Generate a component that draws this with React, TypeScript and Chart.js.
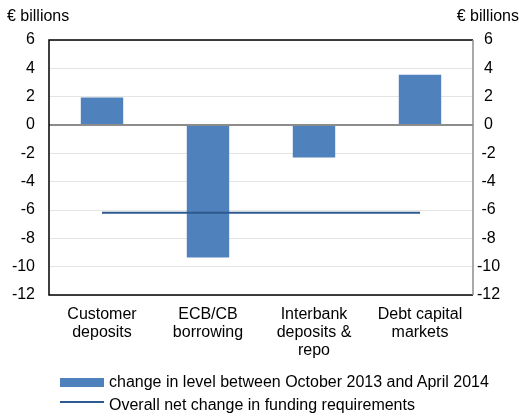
import React, { useEffect, useRef } from 'react';
import { Chart, registerables } from 'chart.js';

Chart.register(...registerables);

const categories: string[][] = [
  ['Customer', 'deposits'],
  ['ECB/CB', 'borrowing'],
  ['Interbank', 'deposits &', 'repo'],
  ['Debt capital', 'markets'],
];
const changeValues = [1.95, -9.35, -2.3, 3.55];
const netChangeValues = [-6.2, -6.2, -6.2, -6.2];
const yMin = -12;
const yMax = 6;
const yStep = 2;
const unitLabel = '€ billions';
const barLabel = 'change in level between October 2013 and April 2014';
const lineLabel = 'Overall net change in funding requirements';

const FONT = "'Liberation Sans', Arial, sans-serif";
const BAR_COLOR = '#4f81bd';
const LINE_COLOR = '#2c5a8e';

const framePlugin = {
  id: 'frame',
  afterDatasetsDraw(chart: any) {
    const { ctx, chartArea } = chart;
    const { left, right, top, bottom } = chartArea;
    const y0 = chart.scales.y.getPixelForValue(0);
    ctx.save();
    ctx.strokeStyle = '#8c8c8c';
    ctx.lineWidth = 2;
    ctx.beginPath();
    ctx.moveTo(left, y0);
    ctx.lineTo(right, y0);
    ctx.stroke();
    ctx.lineWidth = 1.5;
    ctx.strokeStyle = '#000';
    ctx.beginPath();
    ctx.moveTo(right, top);
    ctx.lineTo(left, top);
    ctx.lineTo(left, bottom);
    ctx.lineTo(right, bottom);
    ctx.stroke();
    ctx.strokeStyle = '#8c8c8c';
    ctx.beginPath();
    ctx.moveTo(right, top);
    ctx.lineTo(right, bottom);
    ctx.stroke();
    ctx.fillStyle = '#000';
    ctx.font = `16px ${FONT}`;
    ctx.textBaseline = 'middle';
    ctx.textAlign = 'left';
    ctx.fillText(unitLabel, 7, 17);
    ctx.textAlign = 'right';
    ctx.fillText(unitLabel, 519, 17);
    ctx.restore();
  },
};

export default function App() {
  const ref = useRef<HTMLCanvasElement | null>(null);

  useEffect(() => {
    if (!ref.current) return;
    const chart = new Chart(ref.current, {
      type: 'bar',
      data: {
        labels: categories as any,
        datasets: [
          {
            type: 'line' as any,
            label: lineLabel,
            data: netChangeValues,
            borderColor: LINE_COLOR,
            borderWidth: 2,
            pointRadius: 0,
            fill: false,
            yAxisID: 'y',
            order: 0,
          },
          {
            type: 'bar',
            label: barLabel,
            data: changeValues,
            backgroundColor: BAR_COLOR,
            borderWidth: 0,
            barPercentage: 0.4,
            categoryPercentage: 1,
            yAxisID: 'y',
            order: 1,
          },
        ],
      },
      options: {
        animation: false,
        responsive: false,
        maintainAspectRatio: false,
        layout: { padding: { top: 40, bottom: 50, left: 0, right: 0 } },
        plugins: { legend: { display: false }, tooltip: { enabled: false } },
        scales: {
          x: {
            grid: { display: false, drawTicks: false },
            border: { display: false },
            ticks: {
              color: '#000',
              font: { family: FONT, size: 16, lineHeight: 1.15 },
              padding: 10,
              maxRotation: 0,
              autoSkip: false,
            },
            afterFit(scale: any) {
              scale.height = 71;
            },
          },
          y: {
            position: 'left',
            min: yMin,
            max: yMax,
            ticks: {
              stepSize: yStep,
              color: '#000',
              font: { family: FONT, size: 16 },
              padding: 14,
            },
            grid: {
              drawTicks: false,
              color: '#e4e4e4',
              lineWidth: 1,
            },
            border: { display: false },
            afterFit(scale: any) {
              scale.width = 49;
            },
          },
          y2: {
            position: 'right',
            min: yMin,
            max: yMax,
            ticks: {
              stepSize: yStep,
              color: '#000',
              font: { family: FONT, size: 16 },
              padding: 4,
              crossAlign: 'center',
            },
            grid: { display: false, drawTicks: false },
            border: { display: false },
            afterFit(scale: any) {
              scale.width = 46;
            },
          },
        },
      },
      plugins: [framePlugin],
    });
    return () => chart.destroy();
  }, []);

  const textStyle: React.CSSProperties = {
    position: 'absolute',
    left: 109,
    fontFamily: FONT,
    fontSize: 16,
    color: '#000',
    whiteSpace: 'nowrap',
    lineHeight: '18px',
  };

  return (
    <div style={{ position: 'fixed', left: 0, top: 0, width: 519, height: 416, background: '#fff' }}>
      <canvas ref={ref} width={519} height={416} style={{ width: 519, height: 416, display: 'block' }} />
      <div style={{ position: 'absolute', left: 60, top: 378, width: 44, height: 9, background: BAR_COLOR }} />
      <div style={{ ...textStyle, top: 373 }}>{barLabel}</div>
      <div style={{ position: 'absolute', left: 60, top: 401, width: 44, height: 2, background: LINE_COLOR }} />
      <div style={{ ...textStyle, top: 396 }}>{lineLabel}</div>
    </div>
  );
}
